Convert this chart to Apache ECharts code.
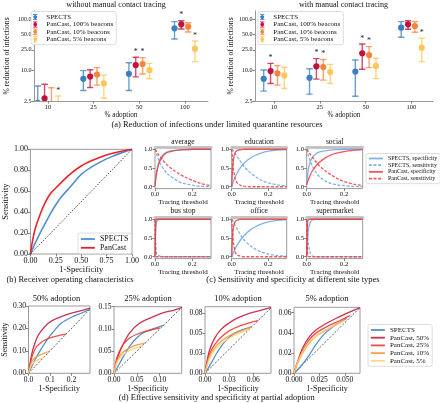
<!DOCTYPE html>
<html><head><meta charset="utf-8">
<script src="https://cdn.jsdelivr.net/npm/echarts@6/dist/echarts.min.js"></script>
<style>html,body{margin:0;padding:0;background:#fff}#c{width:440px;height:403px}</style>
</head><body><div id="c"></div>
<script>
const FONT = 'Liberation Serif';
const INK = '#111';
const SPINE = '#9a9a9a';

// ---------------- (a) reduction of infections ----------------
const adoptionCats = ['10','25','50','100'];
const aNames = ['SPECTS','PanCast, 100% beacons','PanCast, 10% beacons','PanCast, 5% beacons'];
const aYTicks = [2.5,10,25,50,100];
const aYTickLabels = ['2.5','10.0','25.0','50.0','100.0'];
// without manual contact tracing
const woSpectsMean=[2.3,6.8,8.5,65.8], woSpectsLo=[1.2,4.0,4.0,40.7], woSpectsHi=[4.9,9.8,14.0,88.7], woSpectsStar=[0,0,0,0];
const woP100Mean=[2.83,7.5,12.6,78.7], woP100Lo=[1.6,4.6,7.4,63.8], woP100Hi=[5.3,10.2,17.9,92.6], woP100Star=[0,0,1,1];
const woP10Mean=[2.2,8.2,13.2,70.8], woP10Lo=[1.2,5.1,8.4,55.7], woP10Hi=[4.55,11.2,17.6,84.7], woP10Star=[0,0,1,0];
const woP5Mean=[1.9,5.5,10.0,26.3], woP5Lo=[1.0,2.83,6.8,14.7], woP5Hi=[3.13,8.05,13.6,37.2], woP5Star=[1,0,0,1];
// with manual contact tracing
const wSpectsMean=[6.8,7.1,9.4,67.8], wSpectsLo=[3.9,3.4,3.1,43.9], wSpectsHi=[10.1,10.7,15.8,88.7], wSpectsStar=[0,0,0,0];
const wP100Mean=[9.6,11.9,21.4,78.7], wP100Lo=[5.5,6.7,10.4,62.9], wP100Hi=[13.6,16.8,32.5,92.6], wP100Star=[1,1,1,0];
const wP10Mean=[8.7,11.5,19.8,73.0], wP10Lo=[5.1,6.4,11.2,55.0], wP10Hi=[12.3,16.2,28.8,88.7], wP10Star=[0,1,1,0];
const wP5Mean=[7.9,9.2,12.1,27.5], wP5Lo=[4.4,5.5,6.9,14.7], wP5Hi=[11.4,13.0,17.1,42.0], wP5Star=[0,0,0,1];

// ---------------- (b) ROC ----------------
const rocX=[0,0.02,0.05,0.1,0.15,0.2,0.25,0.3,0.4,0.5,0.6,0.7,0.8,0.9,1];
const rocSpects=[0,0.045,0.11,0.21,0.3,0.39,0.47,0.54,0.65,0.76,0.83,0.885,0.93,0.967,1];
const rocPancast=[0,0.12,0.25,0.39,0.5,0.58,0.63,0.68,0.77,0.84,0.89,0.93,0.96,0.982,1];
const bTicksX=[0,0.25,0.5,0.75,1], bLabelsX=['0.00','0.25','0.50','0.75','1.00'];
const bTicksY=[0,0.2,0.4,0.6,0.8,1], bLabelsY=['0.00','0.20','0.40','0.60','0.80','1.00'];

// ---------------- (c) site types ----------------
const cSites=['average','education','social','bus stop','office','supermarket'];
const cNames=['SPECTS, specificity','SPECTS, sensitivity','PanCast, specificity','PanCast, sensitivity'];
const cX=[0,0.005,0.01,0.02,0.03,0.05,0.07,0.1,0.13,0.16,0.2,0.25,0.3];
const avgSS=[0.05,0.28,0.45,0.65,0.77,0.89,0.94,0.97,0.985,0.99,1,1,1];
const avgSN=[1,0.93,0.85,0.72,0.6,0.45,0.33,0.22,0.13,0.08,0.04,0.01,0];
const avgPS=[0.02,0.24,0.4,0.6,0.72,0.86,0.92,0.96,0.98,0.99,1,1,1];
const avgPN=[1,0.97,0.93,0.85,0.78,0.66,0.56,0.44,0.34,0.26,0.17,0.08,0.03];
const eduSS=[0,0.08,0.15,0.27,0.37,0.53,0.64,0.76,0.84,0.9,0.95,0.98,0.99];
const eduSN=[1,0.98,0.95,0.88,0.8,0.66,0.53,0.38,0.27,0.18,0.1,0.05,0.02];
const eduPS=[0,0.5,0.75,0.92,0.97,0.99,1,1,1,1,1,1,1];
const eduPN=[1,0.7,0.45,0.2,0.1,0.03,0.01,0,0,0,0,0,0];
const socSS=[0.1,0.32,0.5,0.68,0.78,0.88,0.93,0.96,0.98,0.99,1,1,1];
const socSN=[1,0.91,0.82,0.68,0.56,0.38,0.26,0.15,0.09,0.05,0.03,0.01,0];
const socPS=[0.05,0.13,0.2,0.32,0.42,0.56,0.66,0.77,0.85,0.9,0.94,0.97,0.99];
const socPN=[1,0.97,0.93,0.86,0.79,0.66,0.55,0.42,0.32,0.23,0.14,0.07,0.03];
const busSS=[0,0.85,0.95,0.99,1,1,1,1,1,1,1,1,1];
const busSN=[1,0.15,0.06,0.03,0.01,0,0,0,0,0,0,0,0];
const busPS=[0,0.99,1,1,1,1,1,1,1,1,1,1,1];
const busPN=[1,0.02,0,0,0,0,0,0,0,0,0,0,0];
const offSS=[0,0.06,0.12,0.22,0.31,0.46,0.58,0.71,0.8,0.87,0.93,0.97,0.99];
const offSN=[1,0.97,0.92,0.83,0.74,0.57,0.44,0.3,0.2,0.13,0.07,0.03,0.01];
const offPS=[0,0.55,0.8,0.95,0.98,1,1,1,1,1,1,1,1];
const offPN=[1,0.65,0.35,0.12,0.05,0.01,0,0,0,0,0,0,0];
const supSS=[0,0.5,0.75,0.93,0.98,1,1,1,1,1,1,1,1];
const supSN=[1,0.55,0.3,0.08,0.02,0,0,0,0,0,0,0,0];
const supPS=[0,0.95,0.99,1,1,1,1,1,1,1,1,1,1];
const supPN=[1,0.05,0.01,0,0,0,0,0,0,0,0,0,0];
const cTicksX=[0,0.2], cLabelsX=['0.0','0.2'];
const cTicksY=[0,0.5,1], cLabelsY=['0.0','0.5','1.0'];

// ---------------- (d) partial adoption ----------------
const dTitles=['50% adoption','25% adoption','10% adoption','5% adoption'];
const dNames=['SPECTS','PanCast, 50%','PanCast, 25%','PanCast, 10%','PanCast, 5%'];
// 50% adoption
const d50SX=[0,0.02,0.04,0.06,0.09,0.12,0.15,0.2,0.25,0.285], d50SY=[0,0.04,0.078,0.11,0.155,0.19,0.222,0.25,0.27,0.285];
const d50P50X=[0,0.01,0.02,0.04,0.06,0.09,0.12,0.15,0.2,0.25,0.286], d50P50Y=[0,0.06,0.105,0.16,0.19,0.222,0.24,0.252,0.268,0.28,0.29];
const d50P25X=[0,0.01,0.02,0.035,0.05,0.07,0.1,0.13,0.175], d50P25Y=[0,0.05,0.085,0.115,0.13,0.145,0.158,0.166,0.175];
const d50P10X=[0,0.01,0.02,0.035,0.05,0.075,0.1], d50P10Y=[0,0.04,0.06,0.072,0.08,0.09,0.1];
const d50P5X=[0,0.01,0.02,0.035,0.05,0.072], d50P5Y=[0,0.03,0.045,0.055,0.062,0.072];
// 25% adoption
const d25SX=[0,0.01,0.02,0.035,0.05,0.065,0.085,0.108], d25SY=[0,0.018,0.037,0.062,0.08,0.092,0.1,0.108];
const d25P50X=[0,0.005,0.01,0.02,0.035,0.055,0.08,0.11,0.13,0.148], d25P50Y=[0,0.025,0.042,0.065,0.092,0.112,0.125,0.137,0.142,0.148];
const d25P25X=[0,0.005,0.01,0.02,0.035,0.05,0.07,0.1], d25P25Y=[0,0.03,0.045,0.065,0.08,0.088,0.095,0.102];
const d25P10X=[0,0.005,0.01,0.02,0.035,0.05,0.068], d25P10Y=[0,0.025,0.035,0.048,0.058,0.064,0.068];
const d25P5X=[0,0.005,0.01,0.02,0.035,0.05,0.062], d25P5Y=[0,0.02,0.03,0.042,0.052,0.058,0.062];
// 10% adoption
const d10SX=[0,0.005,0.01,0.015,0.025,0.035,0.045,0.058], d10SY=[0,0.008,0.017,0.026,0.04,0.049,0.054,0.058];
const d10P50X=[0,0.003,0.006,0.012,0.02,0.03,0.04,0.055,0.07,0.082], d10P50Y=[0,0.018,0.03,0.044,0.055,0.063,0.069,0.075,0.079,0.082];
const d10P25X=[0,0.003,0.006,0.012,0.02,0.03,0.045,0.066], d10P25Y=[0,0.015,0.025,0.036,0.045,0.053,0.06,0.066];
const d10P10X=[0,0.003,0.006,0.012,0.02,0.03,0.045,0.058], d10P10Y=[0,0.013,0.022,0.032,0.04,0.047,0.053,0.058];
const d10P5X=[0,0.003,0.006,0.012,0.02,0.03,0.042,0.055], d10P5Y=[0,0.011,0.019,0.029,0.037,0.044,0.05,0.055];
// 5% adoption
const d5SX=[0,0.005,0.01,0.015,0.022,0.03,0.04,0.052], d5SY=[0,0.005,0.011,0.018,0.029,0.039,0.047,0.0545];
const d5P50X=[0,0.004,0.009,0.015,0.022,0.032,0.045,0.058,0.065], d5P50Y=[0,0.013,0.026,0.036,0.043,0.0495,0.056,0.062,0.065];
const d5P25X=[0,0.004,0.009,0.015,0.022,0.032,0.045,0.055], d5P25Y=[0,0.012,0.023,0.033,0.04,0.046,0.052,0.057];
const d5P10X=[0,0.004,0.009,0.015,0.022,0.032,0.042,0.05], d5P10Y=[0,0.011,0.021,0.03,0.037,0.043,0.049,0.0535];
const d5P5X=[0,0.004,0.009,0.015,0.022,0.032,0.042,0.05], d5P5Y=[0,0.012,0.022,0.031,0.037,0.043,0.048,0.052];
const d50TicksX=[0,0.1,0.2], d50LabelsX=['0.0','0.1','0.2'], d50TicksY=[0,0.1,0.2,0.3], d50LabelsY=['0.00','0.10','0.20','0.30'];
const d25TicksX=[0,0.05,0.1], d25LabelsX=['0.00','0.05','0.10'], d25TicksY=[0,0.05,0.1,0.15], d25LabelsY=['0.00','0.05','0.10','0.15'];
const d10TicksX=[0,0.03,0.06], d10LabelsX=['0.00','0.03','0.06'], d10TicksY=[0,0.025,0.05,0.075], d10LabelsY=['0.00','0.03','0.05','0.08'];
const d5TicksX=[0,0.025,0.05], d5LabelsX=['0.000','0.025','0.050'], d5TicksY=[0,0.02,0.04,0.06], d5LabelsY=['0.00','0.02','0.04','0.06'];

// ---------------- styling / layout ----------------
const aColors=['#3a7fc1','#c2123c','#f5843b','#fcc65a'];
const bColors=['#4f8fd0','#e8232a'];
const cColors=['#6aa6dd','#6aa6dd','#ee3a3e','#ee3a3e'];
const dColors=['#3d85c6','#c51b3f','#f03b30','#f8973e','#fdd17a'];
const aOffsets=[-0.225,-0.075,0.075,0.225];

const zip=(xs,ys)=>xs.map((x,i)=>[x,ys[i]]);
const fmt=(ticks,labels)=>v=>{let bi=0,bd=Infinity;ticks.forEach((t,i)=>{const d=Math.abs(t-v);if(d<bd){bd=d;bi=i;}});return labels[bi];};

function mkAxis(o){
  return {
    type:'value', gridIndex:o.g, min:o.min, max:o.max, position:o.pos,
    name:o.name||'', nameLocation:'middle', nameGap:o.nameGap||10,
    nameTextStyle:{fontFamily:FONT,fontSize:o.nameSize||o.fs,color:INK},
    axisLine:{show:!!o.line,onZero:false,lineStyle:{color:SPINE,width:1}},
    axisTick:{show:true,customValues:o.ticks,length:2.5,lineStyle:{color:'#666',width:0.8}},
    axisLabel:{customValues:o.ticks,formatter:fmt(o.ticks,o.labels),fontFamily:FONT,fontSize:o.fs,color:INK,margin:o.margin||2.5},
    splitLine:{show:false}
  };
}

const grids=[
  {left:34,top:10.8,width:174,height:90.2},
  {left:255,top:10.8,width:178,height:90.2},
  {left:26,top:149.3,width:106,height:104.7,show:true},
  {left:155,top:147.4,width:56,height:41.2,show:true},
  {left:231.7,top:147.4,width:55,height:41.2,show:true},
  {left:306.7,top:147.4,width:56,height:41.2,show:true},
  {left:155,top:217.4,width:56,height:41.2,show:true},
  {left:231.7,top:217.4,width:55,height:41.2,show:true},
  {left:306.7,top:217.4,width:56,height:41.2,show:true},
  {left:22.7,top:306,width:67.3,height:67.3,show:true},
  {left:114,top:306.7,width:67.7,height:66.6,show:true},
  {left:205,top:306.7,width:66,height:66.6,show:true},
  {left:294,top:307.3,width:66,height:66,show:true}
].map(g=>Object.assign({borderColor:SPINE,borderWidth:1,containLabel:false},g));

const aYT=aYTicks.map(Math.log10);
const xAxes=[], yAxes=[];
xAxes.push(mkAxis({g:0,min:-0.307,max:3.51,ticks:[0,1,2,3],labels:adoptionCats,fs:6.5,name:'% adoption',nameGap:7,nameSize:7.2,line:true}));
yAxes.push(mkAxis({g:0,min:Math.log10(2.5),max:2.16,ticks:aYT,labels:aYTickLabels,fs:6,name:'% reduction of infections',nameGap:23.5,nameSize:7.6,line:true}));
xAxes.push(mkAxis({g:1,min:-0.415,max:3.47,ticks:[0,1,2,3],labels:adoptionCats,fs:6.5,name:'% adoption',nameGap:7,nameSize:7.2,line:true}));
yAxes.push(mkAxis({g:1,min:Math.log10(2.5),max:2.16,ticks:aYT,labels:aYTickLabels,fs:6,name:'% reduction of infections',nameGap:19,nameSize:7.6,line:true}));
xAxes.push(mkAxis({g:2,min:0,max:1,ticks:bTicksX,labels:bLabelsX,fs:8,name:'1-Specificity',nameGap:9,nameSize:8.5}));
yAxes.push(mkAxis({g:2,min:0,max:1,ticks:bTicksY,labels:bLabelsY,fs:8,name:'Sensitivity',nameGap:17,nameSize:8.5}));
for(let p=0;p<6;p++){
  xAxes.push(mkAxis({g:3+p,min:0,max:0.3,ticks:cTicksX,labels:cLabelsX,fs:6.8,name:'Tracing threshold',nameGap:6.5,nameSize:7}));
  yAxes.push(mkAxis({g:3+p,min:-0.05,max:1.05,ticks:cTicksY,labels:cLabelsY,fs:6.8}));
}
const dAx=[[0.286,0.30,d50TicksX,d50LabelsX,d50TicksY,d50LabelsY],[0.148,0.15,d25TicksX,d25LabelsX,d25TicksY,d25LabelsY],[0.082,0.0833,d10TicksX,d10LabelsX,d10TicksY,d10LabelsY],[0.065,0.0653,d5TicksX,d5LabelsX,d5TicksY,d5LabelsY]];
dAx.forEach((a,i)=>{
  xAxes.push(mkAxis({g:9+i,min:0,max:a[0],ticks:a[2],labels:a[3],fs:7.5,name:'1-Specificity',nameGap:8.5,nameSize:8}));
  yAxes.push(mkAxis({g:9+i,min:0,max:a[1],ticks:a[4],labels:a[5],fs:7.5,name:i===0?'Sensitivity':'',nameGap:13,nameSize:8}));
});
// thick light top band on (c) panels
for(let p=0;p<6;p++){
  xAxes.push({type:'value',gridIndex:3+p,position:'top',min:0,max:1,axisLine:{show:true,onZero:false,lineStyle:{color:'#c4c4c4',width:3}},axisTick:{show:false},axisLabel:{show:false},splitLine:{show:false}});
}

const series=[];
function ebSeries(name,gi,mean,lo,hi,star,k){
  const data=mean.map((m,i)=>[i+aOffsets[k],Math.log10(m),Math.log10(lo[i]),Math.log10(hi[i]),star[i]]);
  return {type:'custom',name:'a:'+name,xAxisIndex:gi,yAxisIndex:gi,clip:true,itemStyle:{color:aColors[k]},
    encode:{x:0,y:[1,2,3]},data,
    renderItem:(params,api)=>{
      const x=api.value(0);
      const pm=api.coord([x,api.value(1)]),pl=api.coord([x,api.value(2)]),ph=api.coord([x,api.value(3)]);
      const c=api.visual('color');
      const ls={stroke:c,lineWidth:1.4,opacity:0.75};
      const ch=[
        {type:'line',shape:{x1:ph[0],y1:ph[1],x2:pl[0],y2:pl[1]},style:ls},
        {type:'line',shape:{x1:ph[0]-3.2,y1:ph[1],x2:ph[0]+3.2,y2:ph[1]},style:ls},
        {type:'line',shape:{x1:pl[0]-3.2,y1:pl[1],x2:pl[0]+3.2,y2:pl[1]},style:ls},
        {type:'circle',shape:{cx:pm[0],cy:pm[1],r:3.1},style:{fill:c}}
      ];
      if(api.value(4)) ch.push({type:'text',x:ph[0],y:ph[1]-5.5,style:{text:'*',fill:'#222',font:'8px "Liberation Serif"',align:'center',verticalAlign:'middle'}});
      return {type:'group',children:ch};
    }};
}
series.push(ebSeries(aNames[0],0,woSpectsMean,woSpectsLo,woSpectsHi,woSpectsStar,0));
series.push(ebSeries(aNames[1],0,woP100Mean,woP100Lo,woP100Hi,woP100Star,1));
series.push(ebSeries(aNames[2],0,woP10Mean,woP10Lo,woP10Hi,woP10Star,2));
series.push(ebSeries(aNames[3],0,woP5Mean,woP5Lo,woP5Hi,woP5Star,3));
series.push(ebSeries(aNames[0],1,wSpectsMean,wSpectsLo,wSpectsHi,wSpectsStar,0));
series.push(ebSeries(aNames[1],1,wP100Mean,wP100Lo,wP100Hi,wP100Star,1));
series.push(ebSeries(aNames[2],1,wP10Mean,wP10Lo,wP10Hi,wP10Star,2));
series.push(ebSeries(aNames[3],1,wP5Mean,wP5Lo,wP5Hi,wP5Star,3));

function lineS(name,gi,data,color,width,type,opacity,smooth){
  return {type:'line',name,xAxisIndex:gi,yAxisIndex:gi,data,symbol:'none',smooth:smooth===undefined?0.35:smooth,clip:true,
    lineStyle:{color,width,type:type||'solid',opacity:opacity||1},itemStyle:{color},silent:true};
}
// (b)
series.push(lineS('b:SPECTS',2,zip(rocX,rocSpects),bColors[0],1.6));
series.push(lineS('b:PanCast',2,zip(rocX,rocPancast),bColors[1],1.6));
series.push(lineS('diag',2,[[0,0],[1,1]],'#111',1,[1,1.6],1,false));
// (c)
const cData=[[avgSS,avgSN,avgPS,avgPN],[eduSS,eduSN,eduPS,eduPN],[socSS,socSN,socPS,socPN],[busSS,busSN,busPS,busPN],[offSS,offSN,offPS,offPN],[supSS,supSN,supPS,supPN]];
cData.forEach((arrs,p)=>{
  arrs.forEach((ys,k)=>{
    series.push(lineS('c:'+cNames[k],3+p,zip(cX,ys),cColors[k],1.3,k%2?[3,1.6]:'solid',0.85,0.3));
  });
});
// (d)
const dData=[
  [[d50SX,d50SY],[d50P50X,d50P50Y],[d50P25X,d50P25Y],[d50P10X,d50P10Y],[d50P5X,d50P5Y]],
  [[d25SX,d25SY],[d25P50X,d25P50Y],[d25P25X,d25P25Y],[d25P10X,d25P10Y],[d25P5X,d25P5Y]],
  [[d10SX,d10SY],[d10P50X,d10P50Y],[d10P25X,d10P25Y],[d10P10X,d10P10Y],[d10P5X,d10P5Y]],
  [[d5SX,d5SY],[d5P50X,d5P50Y],[d5P25X,d5P25Y],[d5P10X,d5P10Y],[d5P5X,d5P5Y]]
];
dData.forEach((curves,i)=>{
  const m=dAx[i][0];
  series.push(lineS('diag',9+i,[[0,0],[m,m]],'#333',0.8,[2,1.6],1,false));
  curves.forEach((c,k)=>series.push(lineS('d:'+dNames[k],9+i,zip(c[0],c[1]),dColors[k],1.3,'solid',0.9)));
});

const ebIcon='path://M1,0h6v1h-6z M3.5,0h1v8h-1z M1,7h6v1h-6z M3,1.5h2l1.5,1.5v2l-1.5,1.5h-2l-1.5,-1.5v-2z';
const legBase=(o)=>Object.assign({orient:'vertical',selectedMode:false,formatter:n=>n.slice(2),
  backgroundColor:'rgba(255,255,255,0.85)',borderColor:'#d6d6d6',borderWidth:0.8,borderRadius:2,padding:[2,3,2,2]},o);
const lineLegStyle={itemStyle:{opacity:0},lineStyle:{width:1.8}};
const legends=[
  legBase({left:31,top:11.5,itemWidth:12,itemHeight:6,itemGap:0.4,textStyle:{fontFamily:FONT,fontSize:7,lineHeight:6.4,color:INK},data:aNames.map(n=>({name:'a:'+n,icon:ebIcon}))}),
  legBase({left:258,top:11.5,itemWidth:12,itemHeight:6,itemGap:0.4,textStyle:{fontFamily:FONT,fontSize:7,lineHeight:6.4,color:INK},data:aNames.map(n=>({name:'a:'+n,icon:ebIcon}))}),
  legBase(Object.assign({left:78,top:233,itemWidth:14,itemHeight:7,itemGap:0.8,textStyle:{fontFamily:FONT,fontSize:8,color:INK},data:['b:SPECTS','b:PanCast']},lineLegStyle)),
  legBase(Object.assign({left:366,top:153.5,itemWidth:14,itemHeight:5,itemGap:0.7,textStyle:{fontFamily:FONT,fontSize:6,color:INK},data:cNames.map(n=>'c:'+n)},lineLegStyle)),
  legBase(Object.assign({left:368,top:324.5,itemWidth:14,itemHeight:6,itemGap:0.7,textStyle:{fontFamily:FONT,fontSize:7,color:INK},data:dNames.map(n=>'d:'+n)},lineLegStyle))
];

const texts=[
  ['without manual contact tracing',116,4.5,8],
  ['with manual contact tracing',343.5,4.5,8],
  ['(a) Reduction of infections under limited quarantine resources',217,124.3,8.5],
  ['(b) Receiver operating characteristics',70,280,8.5],
  ['(c) Sensitivity and specificity at different site types',293,280,8.5],
  ['(d) Effective sensitivity and specificity at partial adoption',216.7,397.7,8.5]
];
const cCenters=[[183,141.7],[259.2,141.7],[334.7,141.7],[183,211],[259.2,211],[334.7,211]];
cSites.forEach((s,i)=>texts.push([s,cCenters[i][0],cCenters[i][1],7.5]));
const dCenters=[56.4,147.9,238,327];
dTitles.forEach((s,i)=>texts.push([s,dCenters[i],299,8.5]));

const option={
  animation:false,
  backgroundColor:'#fff',
  grid:grids, xAxis:xAxes, yAxis:yAxes, series, legend:legends,
  graphic:texts.map(t=>({type:'text',x:t[1],y:t[2],silent:true,style:{text:t[0],fill:INK,font:t[3]+'px "Liberation Serif"',align:'center',verticalAlign:'middle'}}))
};
const chart=echarts.init(document.getElementById('c'),null,{renderer:'canvas',width:440,height:403});
chart.setOption(option);
</script></body></html>
